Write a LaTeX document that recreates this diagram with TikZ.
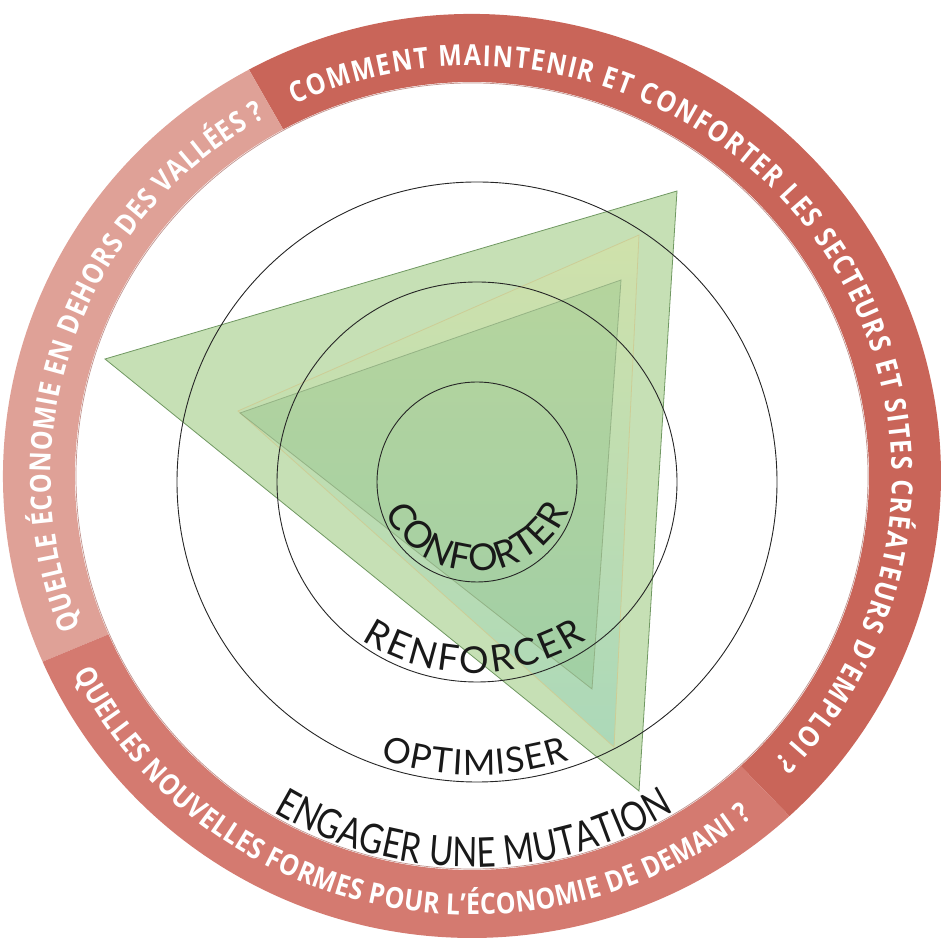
\documentclass[tikz,border=0pt]{standalone}
\usepackage{fontspec}
\usetikzlibrary{decorations.text}
\newfontfamily\ringfont{Open Sans}[FakeStretch=0.86]
\newfontfamily\latofont{Lato}
\newfontfamily\latonarrow{Lato}[FakeStretch=0.8]
\newcommand\ringtxt{\ringfont\bfseries\fontsize{29}{31}\selectfont}
\newcommand\innertxt{\latofont\fontsize{37}{40}\selectfont}
\newcommand\opttxt{\latofont\fontsize{35}{38}\selectfont}
\newcommand\mutxt{\latonarrow\fontsize{41}{43}\selectfont}
\definecolor{segtop}{RGB}{201,101,89}
\definecolor{segleft}{RGB}{223,161,151}
\definecolor{segbottom}{RGB}{212,122,112}
\definecolor{bigfill}{RGB}{198,224,181}
\definecolor{bigedge}{RGB}{112,152,98}
\definecolor{midtop}{RGB}{220,228,160}
\definecolor{midbot}{RGB}{140,208,190}
\definecolor{midedge}{RGB}{205,205,150}
\definecolor{smallfill}{RGB}{130,185,125}
\definecolor{smalledge}{RGB}{140,170,125}
\tikzset{
  ringtext/.style={decorate, decoration={text along path, text color=white, text align={fit to path}, text={|\ringtxt|#1}}},
  innertext/.style={decorate, decoration={text along path, text color=black!90, text align={fit to path}, text={|\innertxt|#1}}},
  opttext/.style={decorate, decoration={text along path, text color=black!90, text align={fit to path}, text={|\opttxt|#1}}},
  mutext/.style={decorate, decoration={text along path, text color=black!90, text align={fit to path}, text={|\mutxt|#1}}},
  guide/.style={draw=black!85, line width=0.9pt},
}
\begin{document}
\begin{tikzpicture}[x=1pt,y=1pt]
\useasboundingbox (0,0) rectangle (942,939);
% ---- outer ring ----
\begin{scope}[shift={(472,463)}]
  \fill[segtop] (118.4:469 and 462) arc[start angle=118.4,end angle=-47.4,x radius=469,y radius=462]
     -- (-47.4:397 and 394) arc[start angle=-47.4,end angle=118.4,x radius=397,y radius=394] -- cycle;
  \fill[segleft] (118.4:469 and 462) arc[start angle=118.4,end angle=203.7,x radius=469,y radius=462]
     -- (203.7:397 and 394) arc[start angle=203.7,end angle=118.4,x radius=397,y radius=394] -- cycle;
  \fill[segbottom] (203.7:469 and 462) arc[start angle=203.7,end angle=312.6,x radius=469,y radius=462]
     -- (312.6:397 and 394) arc[start angle=312.6,end angle=203.7,x radius=397,y radius=394] -- cycle;
  \draw[segtop!75!black, line width=0.7pt, opacity=0.6] (0,0) ellipse[x radius=396,y radius=393];
  \path[ringtext={COMMENT MAINTENIR ET CONFORTER LES SECTEURS ET SITES CRÉATEURS D’EMPLOI ?}]
     (115:420 and 410) arc[start angle=115,end angle=-44,x radius=420,y radius=410];
  \path[ringtext={QUELLE ÉCONOMIE EN DEHORS DES VALLÉES ?}]
     (201.6:421 and 411) arc[start angle=201.6,end angle=119.4,x radius=421,y radius=411];
  \path[ringtext={QUELLES NOUVELLES FORMES POUR L’ÉCONOMIE DE DEMANI ?}]
     (206.7:446 and 439) arc[start angle=206.7,end angle=309,x radius=446,y radius=439];
\end{scope}
\path[mutext={ENGAGER UNE MUTATION}]
   (473,463) ++(239.3:391) arc[start angle=239.3,end angle=300.9,radius=391];
% ---- triangles ----
\fill[bigfill, draw=bigedge, line width=0.8pt] (677,748) -- (105,580) -- (639,148) -- cycle;
\shade[top color=midtop, bottom color=midbot, opacity=0.45] (639,704) -- (238,528) -- (614,192) -- cycle;
\draw[midedge, line width=0.8pt] (639,704) -- (238,528) -- (614,192) -- cycle;
\fill[smallfill, fill opacity=0.3, draw=smalledge, draw opacity=0.8, line width=0.8pt] (621,659) -- (240,526) -- (592,250) -- cycle;
% ---- guide circles ----
\draw[guide] (477,457) circle[radius=100];
\draw[guide] (477,457) circle[radius=200];
\draw[guide] (477,457) circle[radius=300];
% ---- inner labels ----
\path[innertext={CONFORTER}] (477,468) ++(204:100) arc[start angle=204,end angle=336,radius=100];
\path[innertext={RENFORCER}] (474,472) ++(237:206) arc[start angle=237,end angle=303,radius=206];
\path[opttext={OPTIMISER}] (475,461) ++(251.5:297) arc[start angle=251.5,end angle=288.5,radius=297];
\end{tikzpicture}
\end{document}
